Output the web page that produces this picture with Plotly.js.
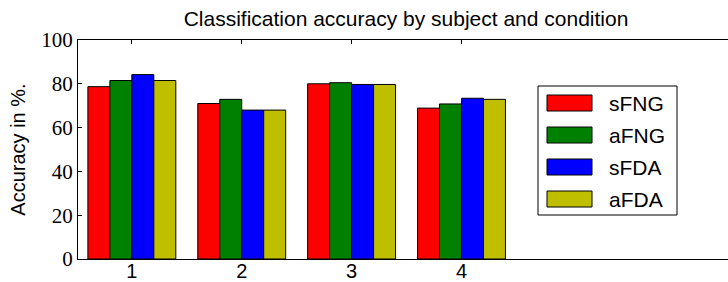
<!DOCTYPE html>
<html><head><meta charset="utf-8">
<script src="https://cdn.plot.ly/plotly-3.0.1.min.js"></script>
<style>html,body{margin:0;padding:0;overflow:hidden;background:#fff}#chart{width:736px;height:282px}</style>
</head><body><div id="chart"></div>
<script>
const subjects = [1, 2, 3, 4];
const tickLabels = ['1', '2', '3', '4'];
const seriesNames = ['sFNG', 'aFNG', 'sFDA', 'aFDA'];
const sFNG = [78.7, 71.0, 80.0, 68.9];
const aFNG = [81.5, 72.9, 80.5, 70.8];
const sFDA = [84.2, 68.0, 79.7, 73.4];
const aFDA = [81.5, 68.0, 79.7, 72.9];
const yTicks = [0, 20, 40, 60, 80, 100];

const seriesValues = [sFNG, aFNG, sFDA, aFDA];
const colors = ['#ff0000', '#008000', '#0000ff', '#bfbf00'];
const SANS = "Liberation Sans";
const SERIF = "Liberation Serif";

const W = 736, H = 282;
const M = {l: 78, r: 2, t: 40, b: 23};
const PW = W - M.l - M.r, PH = H - M.t - M.b;
const px = x => (x - M.l) / PW;
const py = y => 1 - (y - M.t) / PH;

const traces = seriesNames.map((name, i) => ({
  type: 'bar', name: name, x: subjects, y: seriesValues[i],
  marker: {color: colors[i], line: {color: '#000', width: 1}},
  showlegend: false, hoverinfo: 'skip'
}));

const shapes = [{
  type: 'rect', xref: 'paper', yref: 'paper',
  x0: px(538), x1: px(677), y0: py(215), y1: py(86),
  line: {color: '#000', width: 1}, fillcolor: '#fff'
}];
const annotations = [];
seriesNames.forEach((name, i) => {
  const cy = 103 + i * 32;
  shapes.push({
    type: 'rect', xref: 'paper', yref: 'paper',
    x0: px(547), x1: px(592), y0: py(cy + 8), y1: py(cy - 8),
    line: {color: '#000', width: 1}, fillcolor: colors[i]
  });
  annotations.push({
    xref: 'paper', yref: 'paper', x: px(607), y: py(cy),
    xanchor: 'left', yanchor: 'middle', showarrow: false, text: name,
    font: {family: SANS, size: 21, color: '#000'}
  });
});

const layout = {
  width: W, height: H, margin: M,
  paper_bgcolor: '#fff', plot_bgcolor: '#fff',
  barmode: 'group', bargap: 0.2, bargroupgap: 0,
  title: {
    text: 'Classification accuracy by subject and condition',
    x: 0.5, xref: 'paper', y: 1 - 19 / H, yref: 'container', yanchor: 'middle',
    font: {family: SANS, size: 21, color: '#000'}
  },
  xaxis: {
    range: [0.51, 6.48], tickvals: subjects, ticktext: tickLabels,
    showline: true, linecolor: '#000', linewidth: 1, mirror: 'ticks',
    ticks: 'inside', ticklen: 4, tickcolor: '#000', showgrid: false, zeroline: false,
    ticklabelstandoff: -6,
    tickfont: {family: SANS, size: 20, color: '#000'}
  },
  yaxis: {
    range: [0, 100], tickvals: yTicks,
    showline: true, linecolor: '#000', linewidth: 1, mirror: 'ticks',
    ticks: 'inside', ticklen: 4, tickcolor: '#000', showgrid: false, zeroline: false,
    tickfont: {family: SERIF, size: 21, color: '#000'},
    title: {text: 'Accuracy in %.', standoff: 10,
      font: {family: SANS, size: 20, color: '#000'}}
  },
  shapes: shapes, annotations: annotations
};

Plotly.newPlot('chart', traces, layout, {staticPlot: true, displayModeBar: false});
</script></body></html>
